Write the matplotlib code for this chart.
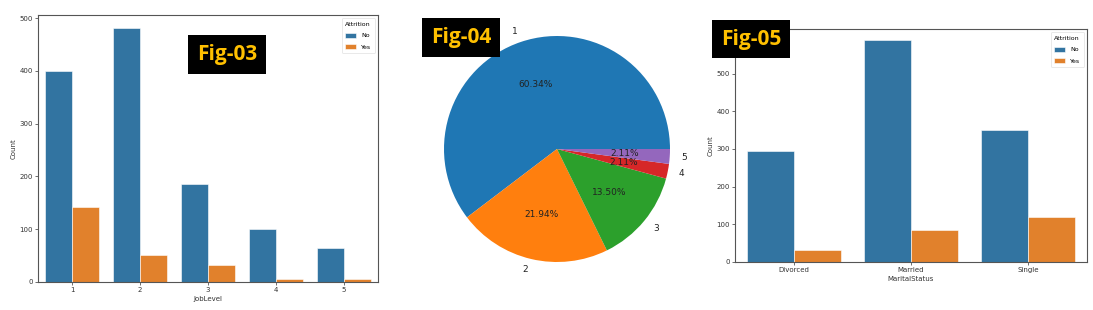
import numpy as np
import matplotlib
matplotlib.use("Agg")
import matplotlib.pyplot as plt

# Fig-03: attrition count by job level
job_levels = ["1", "2", "3", "4", "5"]
job_no = [400, 482, 186, 101, 64]
job_yes = [143, 52, 32, 5, 5]

# Fig-04: share of attrition (Yes) by job level
pie_labels = ["1", "2", "3", "4", "5"]
pie_counts = [143, 52, 32, 5, 5]

# Fig-05: attrition count by marital status
marital = ["Divorced", "Married", "Single"]
marital_no = [294, 589, 350]
marital_yes = [33, 84, 120]

W, H = 1093, 310
blue = "#3274a1"
orange = "#e1812c"
fig = plt.figure(figsize=(W / 100, H / 100), dpi=100)


def px_axes(left, top, right, bottom):
    return fig.add_axes([left / W, 1 - bottom / H, (right - left) / W, (bottom - top) / H])


def count_bars(ax, cats, no, yes, xlabel):
    x = np.arange(len(cats))
    ax.bar(x - 0.2, no, 0.4, color=blue, edgecolor="white", linewidth=0.4, label="No")
    ax.bar(x + 0.2, yes, 0.4, color=orange, edgecolor="white", linewidth=0.4, label="Yes")
    ax.set_xlim(-0.5, len(cats) - 0.5)
    ax.set_ylim(0, max(no + yes) * 1.05)
    ax.set_yticks(np.arange(0, 501, 100))
    ax.set_xticks(x)
    ax.set_xticklabels(cats)
    ax.tick_params(labelsize=5, length=2, width=0.5, pad=1.5, colors="#333333")
    ax.set_xlabel(xlabel, fontsize=5, labelpad=2, color="#333333")
    ax.set_ylabel("Count", fontsize=5, labelpad=2, color="#333333")
    for s in ax.spines.values():
        s.set_color("#555555")
        s.set_linewidth(0.8)
    leg = ax.legend(title="Attrition", loc="upper right", fontsize=4.5, title_fontsize=4.5,
                    handlelength=1.7, handleheight=0.9, borderpad=0.6, labelspacing=0.9,
                    framealpha=0.9, edgecolor="#dddddd")
    leg.get_frame().set_linewidth(0.5)


def fig_tag(text, left, top, right, bottom):
    fig.patches.append(plt.Rectangle((left / W, 1 - bottom / H), (right - left) / W,
                                     (bottom - top) / H, transform=fig.transFigure,
                                     facecolor="black", zorder=10))
    fig.text((left + right) / 2 / W, 1 - (top + bottom) / 2 / H, text, color="#ffc000",
             fontsize=15, fontweight="bold", family="Open Sans", ha="center", va="center",
             zorder=11)


ax1 = px_axes(38, 15, 378, 282)
count_bars(ax1, job_levels, job_no, job_yes, "JobLevel")

# pie, center at (557, 149), radius 113 px
r = 113
ax2 = px_axes(557 - 1.25 * r, 149 - 1.25 * r, 557 + 1.25 * r, 149 + 1.25 * r)
ax2.pie(pie_counts, labels=pie_labels, autopct="%1.2f%%",
        textprops={"fontsize": 6.5, "color": "#222222"})
ax2.set_xlim(-1.25, 1.25)
ax2.set_ylim(-1.25, 1.25)

ax3 = px_axes(735, 29, 1087, 262)
count_bars(ax3, marital, marital_no, marital_yes, "MaritalStatus")

fig_tag("Fig-03", 188, 35, 266, 74)
fig_tag("Fig-04", 422, 18, 500, 57)
fig_tag("Fig-05", 712, 20, 790, 58)

fig.savefig("out.png", dpi=100)
